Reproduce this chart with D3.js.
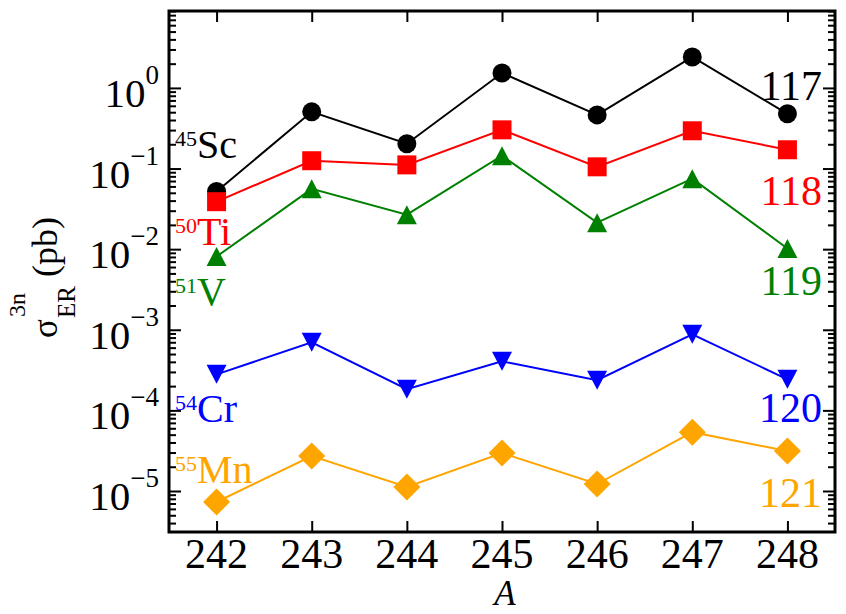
<!DOCTYPE html>
<html>
<head>
<meta charset="utf-8">
<script src="https://cdn.jsdelivr.net/npm/d3@7"></script>
<style>
  body { margin: 0; background: #fff; }
  text { font-family: "Liberation Serif", "Times New Roman", serif; }
</style>
</head>
<body>
<svg width="846" height="614"></svg>
<script>
// mass numbers A of the target
var masses = [242, 243, 244, 245, 246, 247, 248];

// 3n evaporation residue cross sections (pb)
var sc45 = [0.052, 0.505, 0.203, 1.53, 0.463, 2.42, 0.477];
var ti50 = [0.0388, 0.125, 0.111, 0.302, 0.105, 0.294, 0.171];
var v51  = [0.0081, 0.056, 0.0268, 0.144, 0.0213, 0.0748, 0.0102];
var cr54 = [2.8e-4, 6.98e-4, 1.83e-4, 4.06e-4, 2.37e-4, 8.77e-4, 2.43e-4];
var mn55 = [7.3e-6, 2.71e-5, 1.12e-5, 2.95e-5, 1.22e-5, 5.37e-5, 3.13e-5];

var projMass = ["45", "50", "51", "54", "55"];
var projName = ["Sc", "Ti", "V", "Cr", "Mn"];
var elementZ = ["117", "118", "119", "120", "121"];
var decades = [-5, -4, -3, -2, -1, 0];

var series = [sc45, ti50, v51, cr54, mn55];
var colors = ["#000000", "#ff0000", "#008000", "#0000ff", "#ffa500"];
var shapes = ["circle", "square", "up", "down", "diamond"];
// label baselines (px)
var leftY = [158, 245, 305, 422, 483];
var rightY = [100, 205, 295, 422, 507];

var pL = 169, pT = 11, pR = 835, pB = 532;

var svg = d3.select("svg");

var x = d3.scaleLinear().domain([241.5, 248.5]).range([pL, pR]);
var y = d3.scaleLog().domain([3.1e-6, 9]).range([pB, pT]);

// minor ticks 2..9 in every decade
var minor = [];
for (var k = -6; k <= 0; k++) {
  for (var m = 2; m <= 9; m++) {
    var t = m * Math.pow(10, k);
    if (t >= 3.1e-6 && t <= 9) minor.push(t);
  }
}
var major = decades.map(function(d) { return Math.pow(10, d); });

function styleAxis(g) {
  g.select(".domain").remove();
  g.selectAll(".tick line").attr("stroke", "#000").attr("stroke-width", 2);
}

svg.append("g").attr("transform", "translate(0," + pB + ")")
  .call(d3.axisBottom(x).tickValues(masses).tickSize(-11).tickFormat(""))
  .call(styleAxis);
svg.append("g").attr("transform", "translate(0," + pT + ")")
  .call(d3.axisTop(x).tickValues(masses).tickSize(-11).tickFormat(""))
  .call(styleAxis);
svg.append("g").attr("transform", "translate(" + pL + ",0)")
  .call(d3.axisLeft(y).tickValues(major).tickSize(-12).tickFormat(""))
  .call(styleAxis);
svg.append("g").attr("transform", "translate(" + pL + ",0)")
  .call(d3.axisLeft(y).tickValues(minor).tickSize(-7).tickFormat(""))
  .call(styleAxis);
svg.append("g").attr("transform", "translate(" + pR + ",0)")
  .call(d3.axisRight(y).tickValues(major).tickSize(-12).tickFormat(""))
  .call(styleAxis);
svg.append("g").attr("transform", "translate(" + pR + ",0)")
  .call(d3.axisRight(y).tickValues(minor).tickSize(-7).tickFormat(""))
  .call(styleAxis);

svg.append("rect")
  .attr("x", pL).attr("y", pT)
  .attr("width", pR - pL).attr("height", pB - pT)
  .attr("fill", "none").attr("stroke", "#000").attr("stroke-width", 3);

// x tick labels
svg.selectAll(".xlab").data(masses).enter().append("text")
  .attr("x", function(d) { return x(d); })
  .attr("y", 568)
  .attr("text-anchor", "middle")
  .attr("font-size", 42)
  .text(function(d) { return d; });

// y tick labels 10^n
var ylab = svg.selectAll(".ylab").data(decades).enter().append("text")
  .attr("x", 159)
  .attr("y", function(d) { return y(Math.pow(10, d)) + 19; })
  .attr("text-anchor", "end")
  .attr("font-size", 41);
ylab.append("tspan").text("10");
ylab.append("tspan").attr("font-size", 27).attr("dy", -23)
  .text(function(d) { return d < 0 ? "\u2212" + (-d) : d; });

// axis titles
svg.append("text")
  .attr("x", 505).attr("y", 605)
  .attr("text-anchor", "middle")
  .attr("font-size", 35).attr("font-style", "italic")
  .text("A");

var yt = svg.append("g").attr("transform", "translate(57,338) rotate(-90)");
yt.append("text").attr("x", 0).attr("y", 0).attr("font-size", 35).text("\u03c3");
yt.append("text").attr("x", 21).attr("y", -32).attr("font-size", 24).text("3n");
yt.append("text").attr("x", 20).attr("y", 18).attr("font-size", 25).text("ER");
yt.append("text").attr("x", 61).attr("y", 0).attr("font-size", 36).text("(pb)");

// marker paths
function markerPath(s) {
  if (s === "circle") return d3.symbol(d3.symbolCircle, Math.PI * 9.5 * 9.5)();
  if (s === "square") return "M-9.5,-9.5H9.5V9.5H-9.5Z";
  if (s === "up") return "M0,-9.5L10,9.5L-10,9.5Z";
  if (s === "down") return "M0,9.5L10,-9.5L-10,-9.5Z";
  return "M0,-13.5L13.5,0L0,13.5L-13.5,0Z";
}

var line = d3.line()
  .x(function(d, i) { return x(masses[i]); })
  .y(function(d) { return y(d); });

series.forEach(function(vals, si) {
  var g = svg.append("g");
  g.append("path")
    .attr("d", line(vals))
    .attr("fill", "none")
    .attr("stroke", colors[si])
    .attr("stroke-width", 2);
  g.selectAll("path.mk").data(vals).enter().append("path")
    .attr("class", "mk")
    .attr("d", markerPath(shapes[si]))
    .attr("transform", function(d, i) {
      return "translate(" + x(masses[i]) + "," + y(d) + ")";
    })
    .attr("fill", colors[si]);

  var lt = svg.append("text")
    .attr("x", 175).attr("y", leftY[si])
    .attr("font-size", 40)
    .attr("fill", colors[si]);
  lt.append("tspan").attr("font-size", 22).attr("dy", -12).text(projMass[si]);
  lt.append("tspan").attr("dy", 12).text(projName[si]);

  svg.append("text")
    .attr("x", 822).attr("y", rightY[si])
    .attr("text-anchor", "end")
    .attr("font-size", 42)
    .attr("fill", colors[si])
    .text(elementZ[si]);
});
</script>
</body>
</html>
